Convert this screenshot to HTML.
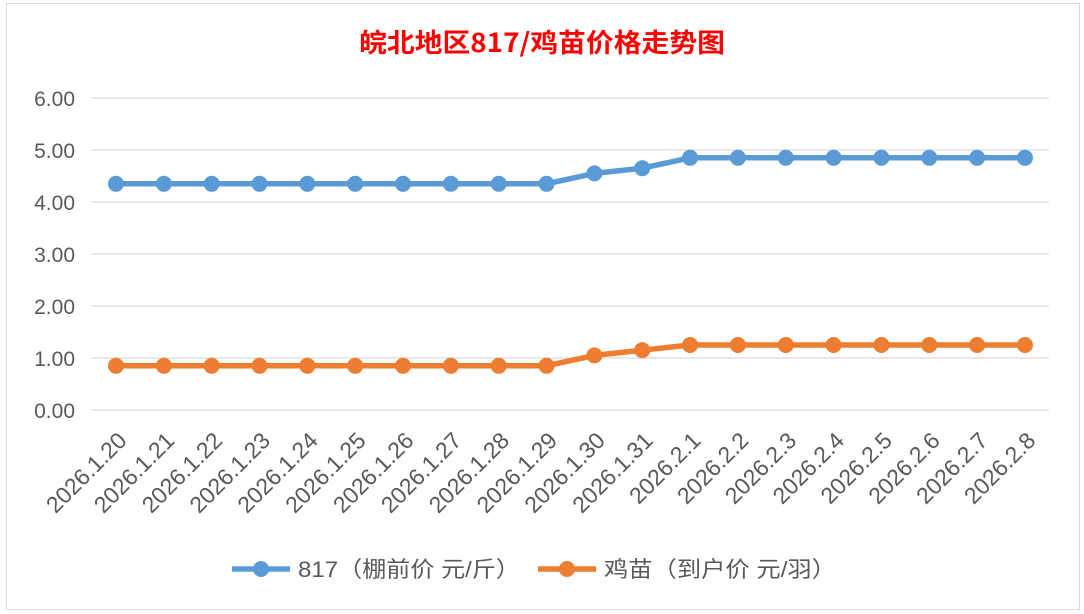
<!DOCTYPE html>
<html><head><meta charset="utf-8"><style>
html,body{margin:0;padding:0;background:#fff;}
svg{display:block;font-family:"Liberation Sans","Noto Sans CJK SC",sans-serif;}
</style></head><body>
<svg width="1084" height="614" viewBox="0 0 1084 614">
<rect x="0" y="0" width="1084" height="614" fill="#fff"/>
<rect x="6.5" y="3.5" width="1073" height="606" fill="#fff" stroke="#d9d9d9"/>
<text x="542" y="52" text-anchor="middle" font-size="26" fill="#ff0000" font-weight="bold" font-family="'Noto Sans CJK SC',sans-serif" textLength="366" lengthAdjust="spacingAndGlyphs">皖北地区817/鸡苗价格走势图</text>
<g stroke="#d9d9d9" stroke-width="1.3">
<line x1="92" x2="1049" y1="98" y2="98"/>
<line x1="92" x2="1049" y1="150" y2="150"/>
<line x1="92" x2="1049" y1="202" y2="202"/>
<line x1="92" x2="1049" y1="254" y2="254"/>
<line x1="92" x2="1049" y1="306" y2="306"/>
<line x1="92" x2="1049" y1="358" y2="358"/>
<line x1="92" x2="1049" y1="410" y2="410"/>
</g>
<g font-size="21" fill="#595959" text-anchor="end">
<text x="75" y="106">6.00</text><text x="75" y="158">5.00</text><text x="75" y="210">4.00</text>
<text x="75" y="262">3.00</text><text x="75" y="314">2.00</text><text x="75" y="366">1.00</text><text x="75" y="418">0.00</text>
</g>
<g id="lbl" font-size="23" fill="#595959" text-anchor="end"></g>
<polyline id="l1" fill="none" stroke="#5b9bd5" stroke-width="5.5" stroke-linejoin="round"/>
<polyline id="l2" fill="none" stroke="#ed7d31" stroke-width="5.5" stroke-linejoin="round"/>
<g id="m"></g>
<line x1="232" x2="290" y1="569" y2="569" stroke="#5b9bd5" stroke-width="5.5"/>
<circle cx="261" cy="569" r="8" fill="#5b9bd5"/>
<text x="298" y="577" font-size="22" fill="#595959" textLength="222" lengthAdjust="spacingAndGlyphs">817（棚前价 元/斤）</text>
<line x1="538" x2="596" y1="569" y2="569" stroke="#ed7d31" stroke-width="5.5"/>
<circle cx="567" cy="569" r="8" fill="#ed7d31"/>
<text x="604" y="577" font-size="22" fill="#595959" textLength="232" lengthAdjust="spacingAndGlyphs">鸡苗（到户价 元/羽）</text>
</svg>
<script>
var ns="http://www.w3.org/2000/svg";
var labels=["2026.1.20","2026.1.21","2026.1.22","2026.1.23","2026.1.24","2026.1.25","2026.1.26","2026.1.27","2026.1.28","2026.1.29","2026.1.30","2026.1.31","2026.2.1","2026.2.2","2026.2.3","2026.2.4","2026.2.5","2026.2.6","2026.2.7","2026.2.8"];
var a=[4.35,4.35,4.35,4.35,4.35,4.35,4.35,4.35,4.35,4.35,4.55,4.65,4.85,4.85,4.85,4.85,4.85,4.85,4.85,4.85];
var b=[0.85,0.85,0.85,0.85,0.85,0.85,0.85,0.85,0.85,0.85,1.05,1.15,1.25,1.25,1.25,1.25,1.25,1.25,1.25,1.25];
function X(i){return 116+i*47.84;}function Y(v){return 410-v*52;}
var p1=[],p2=[],m=document.getElementById("m"),lb=document.getElementById("lbl");
for(var i=0;i<20;i++){p1.push(X(i)+","+Y(a[i]));p2.push(X(i)+","+Y(b[i]));
[[a,"#5b9bd5"],[b,"#ed7d31"]].forEach(function(s){var c=document.createElementNS(ns,"circle");c.setAttribute("cx",X(i));c.setAttribute("cy",Y(s[0][i]));c.setAttribute("r",8);c.setAttribute("fill",s[1]);m.appendChild(c);});
var t=document.createElementNS(ns,"text");t.textContent=labels[i];var x=X(i)+12,y=442;t.setAttribute("x",x);t.setAttribute("y",y);t.setAttribute("transform","rotate(-45 "+x+" "+y+")");lb.appendChild(t);}
document.getElementById("l1").setAttribute("points",p1.join(" "));
document.getElementById("l2").setAttribute("points",p2.join(" "));
</script>
</body></html>
